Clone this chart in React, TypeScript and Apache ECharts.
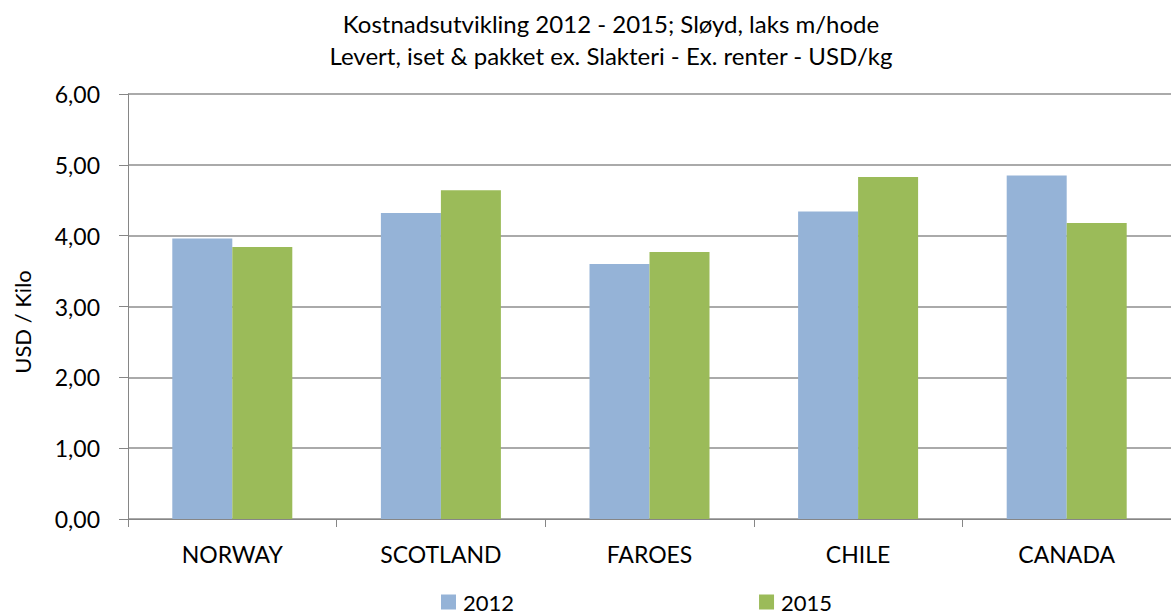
import React, { useEffect, useRef } from "react";
import * as echarts from "echarts";

const categories = ["NORWAY", "SCOTLAND", "FAROES", "CHILE", "CANADA"];
const values2012 = [3.96, 4.32, 3.6, 4.34, 4.85];
const values2015 = [3.84, 4.64, 3.77, 4.83, 4.18];
const seriesNames = ["2012", "2015"];
const titleLines = [
  "Kostnadsutvikling 2012 - 2015; Sløyd, laks m/hode",
  "Levert, iset & pakket ex. Slakteri - Ex. renter - USD/kg",
];
const yAxisTitle = "USD / Kilo";

const FONT = "Lato";

export default function App() {
  const ref = useRef<HTMLDivElement>(null);
  useEffect(() => {
    if (!ref.current) return;
    const chart = echarts.init(ref.current, null, { renderer: "svg" });
    chart.setOption({
      animation: false,
      backgroundColor: "#ffffff",
      textStyle: { fontFamily: FONT },
      title: {
        text: titleLines.join("\n"),
        left: 611,
        top: 7,
        padding: 0,
        textAlign: "center",
        textStyle: {
          fontFamily: FONT,
          fontSize: 24,
          fontWeight: "normal",
          color: "#000000",
          lineHeight: 32,
        },
      },
      legend: {
        data: seriesNames,
        left: 441,
        top: 591,
        padding: 0,
        icon: "rect",
        itemWidth: 15,
        itemHeight: 15,
        itemGap: 245,
        textStyle: {
          fontFamily: FONT,
          fontSize: 22,
          color: "#000000",
          padding: [0, 0, 0, 2],
        },
      },
      graphic: [
        {
          type: "text",
          x: 22,
          y: 322,
          rotation: Math.PI / 2,
          style: {
            text: yAxisTitle,
            fontFamily: FONT,
            fontSize: 22,
            fill: "#000000",
            align: "center",
            verticalAlign: "middle",
          },
        },
      ],
      grid: { left: 128, right: -6, top: 94, bottom: 95, containLabel: false },
      xAxis: {
        type: "category",
        data: categories,
        axisLine: { show: true, lineStyle: { color: "#868686", width: 1 } },
        axisTick: { show: true, length: 8, lineStyle: { color: "#868686" } },
        axisLabel: { fontFamily: FONT, fontSize: 23, color: "#000000", margin: 23 },
      },
      yAxis: {
        type: "value",
        min: 0,
        max: 6,
        interval: 1,
        axisLine: { show: true, lineStyle: { color: "#868686", width: 1 } },
        axisTick: { show: true, length: 9, lineStyle: { color: "#868686" } },
        axisLabel: {
          fontFamily: FONT,
          fontSize: 23,
          color: "#000000",
          margin: 28,
          formatter: (v: number) => v.toFixed(2).replace(".", ","),
        },
        splitLine: { show: true, lineStyle: { color: "#8e8e8e", width: 1.5 } },
      },
      series: [
        {
          name: seriesNames[0],
          type: "bar",
          data: values2012,
          barWidth: 60,
          barGap: "0%",
          itemStyle: { color: "#95B3D7" },
        },
        {
          name: seriesNames[1],
          type: "bar",
          data: values2015,
          barWidth: 60,
          barGap: "0%",
          itemStyle: { color: "#9BBB59" },
        },
      ],
    });
    return () => chart.dispose();
  }, []);
  return (
    <div
      ref={ref}
      style={{ position: "fixed", left: 0, top: 0, width: 1171, height: 614, background: "#fff" }}
    />
  );
}
